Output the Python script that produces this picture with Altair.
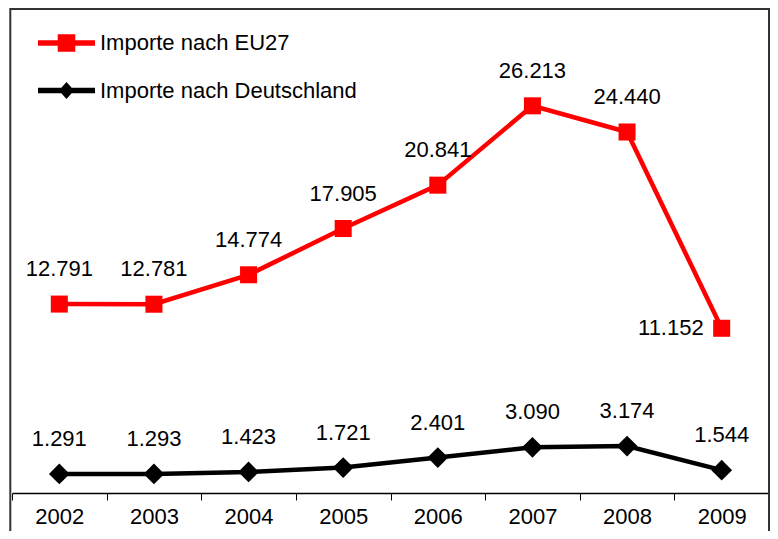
import altair as alt
import pandas as pd

years = ["2002", "2003", "2004", "2005", "2006", "2007", "2008", "2009"]
eu27 = [12.791, 12.781, 14.774, 17.905, 20.841, 26.213, 24.440, 11.152]
deutschland = [1.291, 1.293, 1.423, 1.721, 2.401, 3.090, 3.174, 1.544]
series = ["Importe nach EU27", "Importe nach Deutschland"]
colors = ["#FF0000", "#000000"]

rows = []
for j, v in zip(years, eu27):
    rows.append({"Jahr": j, "Wert": v, "Serie": series[0]})
for j, v in zip(years, deutschland):
    rows.append({"Jahr": j, "Wert": v, "Serie": series[1]})
df = pd.DataFrame(rows)

W, H = 757, 483

x_enc = alt.X(
    "Jahr:O",
    sort=years,
    scale=alt.Scale(type="band", domain=years, paddingInner=0, paddingOuter=0),
    axis=alt.Axis(
        title=None,
        labelAngle=0,
        labelFontSize=22,
        labelColor="#000000",
        labelPadding=6,
        domainColor="#000000",
        domainWidth=1.5,
        tickColor="#000000",
        tickSize=7,
        tickWidth=1,
        tickBand="extent",
        grid=False,
    ),
)
y_enc = alt.Y("Wert:Q", scale=alt.Scale(domain=[0, 32.7], nice=False, zero=True), axis=None)

base = alt.Chart(df).encode(x=x_enc, y=y_enc)

is_eu = f"datum.Serie == '{series[0]}'"
is_de = f"datum.Serie == '{series[1]}'"

line_eu = base.mark_line(color=colors[0], strokeWidth=4.5).transform_filter(is_eu)
line_de = base.mark_line(color=colors[1], strokeWidth=4.5).transform_filter(is_de)
pts_eu = base.mark_point(shape="square", filled=True, size=290, color=colors[0], opacity=1).transform_filter(is_eu)
pts_de = base.mark_point(shape="diamond", filled=True, size=430, color=colors[1], opacity=1).transform_filter(is_de)

labels_main = base.mark_text(dy=-35, fontSize=22, color="#000000").encode(
    text=alt.Text("Wert:Q", format=".3f")
).transform_filter(f"!({is_eu} && datum.Jahr == '2009')")
labels_side = base.mark_text(align="right", baseline="middle", dx=-18, fontSize=22, color="#000000").encode(
    text=alt.Text("Wert:Q", format=".3f")
).transform_filter(f"{is_eu} && datum.Jahr == '2009'")

path_sq = "M-1.425,-0.14H1.425V0.14H-1.425Z M-0.44,-0.44H0.44V0.44H-0.44Z"
path_dia = "M-1.425,-0.14H1.425V0.14H-1.425Z M0,-0.43L0.38,0L0,0.43L-0.38,0Z"

leg = alt.Legend(
    title=None,
    orient="none",
    legendX=34.5,
    legendY=13,
    padding=0,
    symbolSize=1600,
    symbolStrokeWidth=0,
    symbolOpacity=1,
    labelFontSize=22,
    labelColor="#000000",
    labelOffset=13.5,
    labelLimit=600,
    rowPadding=16.5,
)
legend_layer = base.mark_point(filled=True, opacity=0).encode(
    color=alt.Color("Serie:N", scale=alt.Scale(domain=series, range=colors), legend=leg),
    shape=alt.Shape("Serie:N", scale=alt.Scale(domain=series, range=[path_sq, path_dia]), legend=leg),
)

frame = alt.Chart(pd.DataFrame({"f": [0]})).mark_rect(
    fill="transparent", stroke="#333333", strokeWidth=2
).encode(
    x=alt.value(-1.7), x2=alt.value(757), y=alt.value(-1), y2=alt.value(600)
)

chart = alt.layer(
    legend_layer, frame, line_eu, line_de, pts_eu, pts_de, labels_main, labels_side
).properties(
    width=W,
    height=H,
    autosize=alt.AutoSizeParams(type="none"),
    padding={"left": 4, "top": 2, "right": 1, "bottom": 38},
).configure(
    font="Liberation Sans",
).configure_view(stroke=None)

chart.save("out.html", embed_options={"renderer": "svg", "actions": False})
